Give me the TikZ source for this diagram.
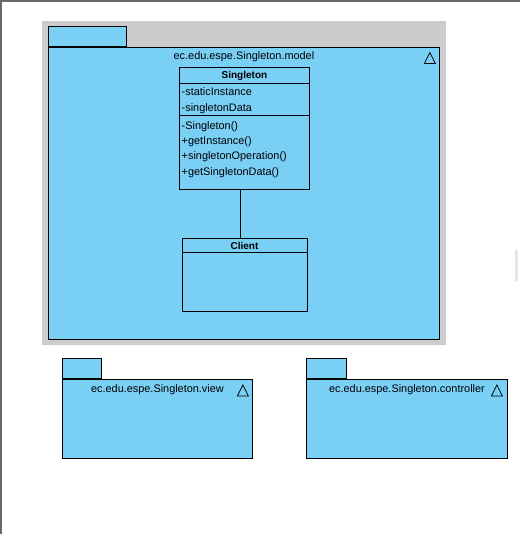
\documentclass[tikz,border=0pt]{standalone}
\usepackage{fontspec}
\setmainfont{Liberation Sans}
\usetikzlibrary{positioning}
\definecolor{pkgblue}{RGB}{122,207,245}
\definecolor{pkgshade}{RGB}{204,204,204}
\definecolor{framegray}{RGB}{105,105,105}

\begin{document}
\begin{tikzpicture}[x=1pt,y=-1pt,font=\fontsize{10.9}{15.3}\selectfont,
    pkg/.style={draw,fill=pkgblue,line width=0.9pt,inner sep=0pt,anchor=north west},
    umlclass/.style={draw,fill=pkgblue,line width=0.9pt,inner sep=0pt,anchor=north west},
    members/.style={align=left,inner sep=0pt,anchor=north west},
    title/.style={inner sep=0pt,anchor=base}]
    \useasboundingbox (0,0) rectangle (520,534);
    % Window border
    \draw[framegray, line width=1.5pt] (1,534) -- (1,1) -- (520,1);
    \fill[gray!20] (515,250) rectangle (518,281);
    % Add the model package
    \fill[pkgshade] (42,21) rectangle (446,345);
    \node[pkg,
          minimum width=391pt,
          minimum height=292pt] (model) at (48,47) {};
    \node[pkg,
          above right=0pt of model.north west,
          minimum width=78pt,
          minimum height=20pt] (modeltab) {};
    \node[title] (modeltitle) at ([shift={(0,12.3)}]model.north) {ec.edu.espe.Singleton.model};
    \draw[line width=0.8pt] ([shift={(-10,5.5)}]model.north east)
        -- ([shift={(-15.5,16.5)}]model.north east)
        -- ([shift={(-4.5,16.5)}]model.north east) -- cycle;
    % Add the classes
    \node[umlclass,
          minimum width=130pt,
          minimum height=122pt] (singleton) at (179,67) {};
    \node[title, font=\bfseries] (singletonname) at ([shift={(0,11.8)}]singleton.north) {Singleton};
    \draw[line width=0.9pt] ([shift={(0,16.5)}]singleton.north west) -- ([shift={(0,16.5)}]singleton.north east);
    \draw[line width=0.9pt] ([shift={(0,48)}]singleton.north west) -- ([shift={(0,48)}]singleton.north east);
    \node[members] (singletonattrs) at ([shift={(2.5,20.8)}]singleton.north west)
        {-staticInstance\\-singletonData};
    \node[members] (singletonops) at ([shift={(2.5,54.3)}]singleton.north west)
        {-Singleton()\\+getInstance()\\+singletonOperation()\\+getSingletonData()};
    \node[umlclass,
          below=48pt of singleton,
          minimum width=125pt,
          minimum height=73pt] (client) {};
    \node[title, font=\bfseries] (clientname) at ([shift={(0,11.8)}]client.north) {Client};
    \draw[line width=0.9pt] ([shift={(0,15)}]client.north west) -- ([shift={(0,15)}]client.north east);
    % Connect the classes
    \draw[line width=0.9pt] ([xshift=-4.5pt]singleton.south) -- ([xshift=-4.5pt]singleton.south |- client.north);
    % Add the view and controller packages
    \node[pkg,
          minimum width=190pt,
          minimum height=79pt] (view) at (62,379) {};
    \node[pkg,
          above right=0pt of view.north west,
          minimum width=38.5pt,
          minimum height=20pt] (viewtab) {};
    \node[title] (viewtitle) at ([shift={(0,13.5)}]view.north) {ec.edu.espe.Singleton.view};
    \draw[line width=0.8pt] ([shift={(-10,6)}]view.north east)
        -- ([shift={(-15.5,17)}]view.north east)
        -- ([shift={(-4.5,17)}]view.north east) -- cycle;
    \node[pkg,
          minimum width=201pt,
          minimum height=79pt] (controller) at (306,379) {};
    \node[pkg,
          above right=0pt of controller.north west,
          minimum width=40pt,
          minimum height=20pt] (controllertab) {};
    \node[title] (controllertitle) at ([shift={(0,13.3)}]controller.north) {ec.edu.espe.Singleton.controller};
    \draw[line width=0.8pt] ([shift={(-11,6)}]controller.north east)
        -- ([shift={(-16.5,17)}]controller.north east)
        -- ([shift={(-5.5,17)}]controller.north east) -- cycle;
\end{tikzpicture}
\end{document}
